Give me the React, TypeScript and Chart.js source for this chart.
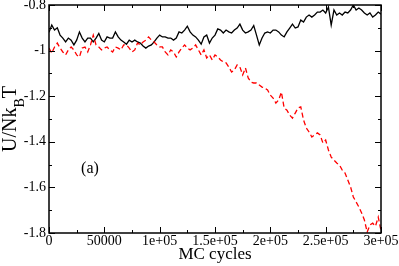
import React, { useEffect, useRef } from 'react';
import { Chart, registerables } from 'chart.js';

Chart.register(...registerables);

// MC cycles sampled every 2500 steps (0 .. 300000)
const mcCycles: number[] = Array.from({ length: 121 }, (_, i) => i * 2500);

// Solid black series
const blackEnergy: number[] = [
  -0.92, -0.888, -0.91, -0.9, -0.932, -0.945, -0.962, -0.945, -0.954, -0.975,
  -0.954, -0.918, -0.945, -0.962, -0.945, -0.945, -0.962, -0.945, -0.925, -0.954,
  -0.962, -0.94, -0.945, -0.945, -0.918, -0.94, -0.954, -0.962, -0.972, -0.954,
  -0.962, -0.954, -0.962, -0.967, -0.98, -0.989, -0.98, -0.975, -0.962, -0.945,
  -0.932, -0.94, -0.94, -0.945, -0.945, -0.954, -0.945, -0.918, -0.923, -0.91,
  -0.893, -0.918, -0.932, -0.94, -0.954, -0.972, -0.94, -0.932, -0.967, -0.945,
  -0.932, -0.905, -0.91, -0.923, -0.91, -0.918, -0.923, -0.91, -0.901, -0.884,
  -0.91, -0.923, -0.918, -0.91, -0.89, -0.932, -0.975, -0.945, -0.923, -0.918,
  -0.923, -0.91, -0.91, -0.918, -0.932, -0.94, -0.918, -0.901, -0.884, -0.901,
  -0.896, -0.866, -0.875, -0.853, -0.844, -0.853, -0.844, -0.831, -0.831, -0.822,
  -0.835, -0.809, -0.888, -0.822, -0.844, -0.835, -0.844, -0.831, -0.835, -0.822,
  -0.8, -0.822, -0.813, -0.822, -0.835, -0.844, -0.835, -0.853, -0.844, -0.831,
  -0.84,
];

// Dashed red series
const redEnergy: number[] = [
  -0.989, -1.011, -0.984, -0.967, -0.989, -1.006, -1.019, -0.997, -0.984, -0.997,
  -1.019, -1.028, -0.989, -0.984, -1.006, -0.975, -0.932, -0.975, -0.984, -0.997,
  -0.989, -0.984, -0.997, -1.006, -0.984, -0.989, -0.997, -0.975, -0.975, -0.989,
  -1.006, -0.997, -0.967, -0.975, -0.962, -0.954, -0.94, -0.954, -0.962, -0.975,
  -0.984, -0.984, -1.006, -1.019, -0.997, -1.006, -1.028, -1.006, -0.989, -0.975,
  -0.989, -0.997, -0.989, -0.975, -0.997, -1.019, -0.997, -1.032, -1.019, -1.041,
  -1.019, -1.028, -1.041, -1.05, -1.054, -1.072, -1.094, -1.085, -1.063, -1.072,
  -1.107, -1.076, -1.12, -1.138, -1.142, -1.142, -1.151, -1.16, -1.164, -1.173,
  -1.195, -1.208, -1.23, -1.217, -1.182, -1.252, -1.261, -1.283, -1.296, -1.274,
  -1.252, -1.247, -1.304, -1.339, -1.357, -1.379, -1.37, -1.361, -1.37, -1.405,
  -1.392, -1.436, -1.467, -1.48, -1.493, -1.502, -1.524, -1.537, -1.568, -1.598,
  -1.642, -1.664, -1.686, -1.712, -1.743, -1.796, -1.765, -1.757, -1.77, -1.73,
  -1.79,
];

const xTickValues: number[] = [0, 50000, 100000, 150000, 200000, 250000, 300000];
const xTickLabels: string[] = ['0', '50000', '1e+05', '1.5e+05', '2e+05', '2.5e+05', '3e+05'];
const yTickValues: number[] = [-1.8, -1.6, -1.4, -1.2, -1, -0.8];
const yTickLabels: string[] = ['-1.8', '-1.6', '-1.4', '-1.2', '-1', '-0.8'];
const yTitleParts: string[] = ['U/Nk', 'B', 'T'];
const xTitle = 'MC cycles';
const panelLabel = '(a)';
const panelLabelPos = { x: 37000, y: -1.52 };

const SERIF = '"Liberation Serif", "Times New Roman", Times, serif';

const framePlugin = {
  id: 'graceFrame',
  afterDraw(chart: any) {
    const { ctx, chartArea: a, scales } = chart;
    const xs = scales.x;
    const ys = scales.y;
    ctx.save();
    ctx.strokeStyle = '#000';
    ctx.lineWidth = 1;
    ctx.beginPath();
    for (let i = 0; i < xTickValues.length; i++) {
      const px = Math.round(xs.getPixelForValue(xTickValues[i])) + 0.5;
      ctx.moveTo(px, a.bottom);
      ctx.lineTo(px, a.bottom - 6);
      ctx.moveTo(px, a.top);
      ctx.lineTo(px, a.top + 6);
      if (i < xTickValues.length - 1) {
        const mv = (xTickValues[i] + xTickValues[i + 1]) / 2;
        const mx = Math.round(xs.getPixelForValue(mv)) + 0.5;
        ctx.moveTo(mx, a.bottom);
        ctx.lineTo(mx, a.bottom - 3);
        ctx.moveTo(mx, a.top);
        ctx.lineTo(mx, a.top + 3);
      }
    }
    for (let i = 0; i < yTickValues.length; i++) {
      const py = Math.round(ys.getPixelForValue(yTickValues[i])) + 0.5;
      ctx.moveTo(a.left, py);
      ctx.lineTo(a.left + 6, py);
      ctx.moveTo(a.right, py);
      ctx.lineTo(a.right - 6, py);
      if (i < yTickValues.length - 1) {
        const mv = (yTickValues[i] + yTickValues[i + 1]) / 2;
        const my = Math.round(ys.getPixelForValue(mv)) + 0.5;
        ctx.moveTo(a.left, my);
        ctx.lineTo(a.left + 3, my);
        ctx.moveTo(a.right, my);
        ctx.lineTo(a.right - 3, my);
      }
    }
    ctx.stroke();
    ctx.lineWidth = 1.5;
    ctx.strokeRect(a.left, a.top, a.right - a.left, a.bottom - a.top);

    // panel label
    ctx.fillStyle = '#000';
    ctx.font = `16px ${SERIF}`;
    ctx.textAlign = 'center';
    ctx.textBaseline = 'middle';
    ctx.fillText(panelLabel, xs.getPixelForValue(panelLabelPos.x), ys.getPixelForValue(panelLabelPos.y));

    // y-axis title with subscript
    const big = `20px ${SERIF}`;
    const small = `14px ${SERIF}`;
    ctx.font = big;
    const w0 = ctx.measureText(yTitleParts[0]).width;
    const w2 = ctx.measureText(yTitleParts[2]).width;
    ctx.font = small;
    const w1 = ctx.measureText(yTitleParts[1]).width;
    const total = w0 + w1 + w2;
    ctx.translate(16, (a.top + a.bottom) / 2);
    ctx.rotate(-Math.PI / 2);
    ctx.textAlign = 'left';
    ctx.textBaseline = 'alphabetic';
    let cx = -total / 2;
    ctx.font = big;
    ctx.fillText(yTitleParts[0], cx, 0);
    cx += w0;
    ctx.font = small;
    ctx.fillText(yTitleParts[1], cx, 8);
    cx += w1;
    ctx.font = big;
    ctx.fillText(yTitleParts[2], cx, 0);
    ctx.restore();
  },
};

export default function App() {
  const canvasRef = useRef<HTMLCanvasElement | null>(null);

  useEffect(() => {
    const canvas = canvasRef.current;
    if (!canvas) return;
    const chart = new Chart(canvas, {
      type: 'line',
      data: {
        datasets: [
          {
            data: mcCycles.map((x, i) => ({ x, y: redEnergy[i] })),
            borderColor: '#ff0000',
            borderWidth: 1.3,
            borderDash: [5, 3],
            pointRadius: 0,
            tension: 0,
            fill: false,
          },
          {
            data: mcCycles.map((x, i) => ({ x, y: blackEnergy[i] })),
            borderColor: '#000000',
            borderWidth: 1.3,
            pointRadius: 0,
            tension: 0,
            fill: false,
          },
        ],
      },
      options: {
        animation: false,
        responsive: false,
        events: [],
        layout: { padding: { top: 5, right: 18, left: 0, bottom: 0 } },
        plugins: { legend: { display: false }, tooltip: { enabled: false } },
        scales: {
          x: {
            type: 'linear',
            min: 0,
            max: 300000,
            grid: { display: false, drawTicks: false },
            border: { display: false },
            afterBuildTicks: (scale: any) => {
              scale.ticks = xTickValues.map((v) => ({ value: v }));
            },
            afterFit: (scale: any) => {
              scale.height = 33;
              scale.paddingLeft = 0;
              scale.paddingRight = 0;
            },
            ticks: {
              autoSkip: false,
              maxRotation: 0,
              padding: 0,
              color: '#000',
              font: { family: SERIF, size: 14 },
              callback: (_v: any, i: number) => xTickLabels[i],
            },
            title: {
              display: true,
              text: xTitle,
              color: '#000',
              font: { family: SERIF, size: 17 },
              padding: { top: 0, bottom: 1 },
            },
          },
          y: {
            type: 'linear',
            min: -1.8,
            max: -0.8,
            grid: { display: false, drawTicks: false },
            border: { display: false },
            afterBuildTicks: (scale: any) => {
              scale.ticks = yTickValues.map((v) => ({ value: v }));
            },
            afterFit: (scale: any) => {
              scale.width = 49;
              scale.paddingTop = 0;
              scale.paddingBottom = 0;
            },
            ticks: {
              autoSkip: false,
              padding: 3,
              color: '#000',
              font: { family: SERIF, size: 14 },
              callback: (_v: any, i: number) => yTickLabels[i],
            },
          },
        },
      },
      plugins: [framePlugin],
    } as any);
    return () => chart.destroy();
  }, []);

  return (
    <div style={{ position: 'absolute', left: 0, top: 0, width: 399, height: 266, background: '#fff' }}>
      <canvas ref={canvasRef} width={399} height={266} style={{ display: 'block', width: 399, height: 266 }} />
    </div>
  );
}
